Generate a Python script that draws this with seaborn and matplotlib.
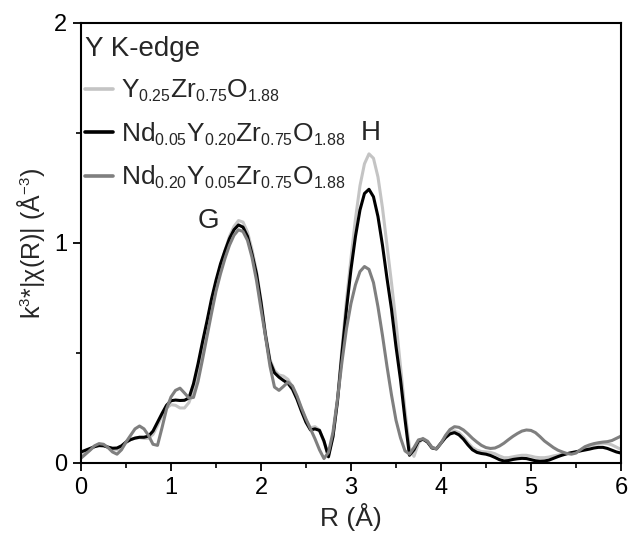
import numpy as np
import pandas as pd
import matplotlib
matplotlib.use("Agg")
import matplotlib.pyplot as plt
import matplotlib._mathtext as mathtext_core
from matplotlib.ticker import MultipleLocator
import seaborn as sns

# Radial distance grid (Å), 0.05 Å step
r = np.round(np.arange(0, 6.0001, 0.05), 2)

# |chi(R)| weighted by k^3, Y K-edge
y025 = [0.030, 0.045, 0.060, 0.075, 0.084, 0.082, 0.072, 0.062, 0.060, 0.072,
        0.092, 0.106, 0.113, 0.115, 0.112, 0.112, 0.130, 0.170, 0.215, 0.250,
        0.265, 0.262, 0.250, 0.250, 0.275, 0.335, 0.425, 0.525, 0.625, 0.725,
        0.815, 0.895, 0.965, 1.030, 1.075, 1.102, 1.095, 1.050, 0.970, 0.870,
        0.740, 0.590, 0.470, 0.420, 0.400, 0.395, 0.380, 0.345, 0.300, 0.245,
        0.195, 0.160, 0.165, 0.150, 0.095, 0.035, 0.120, 0.290, 0.520, 0.740,
        0.930, 1.110, 1.260, 1.360, 1.405, 1.385, 1.300, 1.160, 0.990, 0.820,
        0.640, 0.440, 0.240, 0.070, 0.030, 0.090, 0.112, 0.100, 0.072, 0.066,
        0.090, 0.118, 0.138, 0.146, 0.138, 0.118, 0.092, 0.070, 0.058, 0.052,
        0.050, 0.048, 0.042, 0.032, 0.024, 0.024, 0.028, 0.032, 0.035, 0.035,
        0.031, 0.026, 0.024, 0.024, 0.027, 0.032, 0.036, 0.040, 0.043, 0.045,
        0.048, 0.056, 0.068, 0.078, 0.084, 0.088, 0.090, 0.088, 0.082, 0.072,
        0.062]

nd005 = [0.050, 0.058, 0.066, 0.074, 0.079, 0.078, 0.072, 0.067, 0.068, 0.078,
         0.095, 0.106, 0.113, 0.117, 0.117, 0.122, 0.145, 0.185, 0.225, 0.262,
         0.283, 0.286, 0.284, 0.285, 0.296, 0.360, 0.450, 0.550, 0.645, 0.745,
         0.830, 0.905, 0.965, 1.020, 1.060, 1.082, 1.072, 1.030, 0.950, 0.860,
         0.730, 0.580, 0.460, 0.410, 0.390, 0.375, 0.362, 0.335, 0.290, 0.235,
         0.185, 0.150, 0.155, 0.148, 0.100, 0.028, 0.120, 0.280, 0.500, 0.700,
         0.880, 1.030, 1.150, 1.225, 1.244, 1.210, 1.120, 0.990, 0.840, 0.700,
         0.530, 0.380, 0.200, 0.035, 0.060, 0.100, 0.108, 0.095, 0.068, 0.064,
         0.090, 0.115, 0.132, 0.138, 0.128, 0.108, 0.082, 0.060, 0.048, 0.043,
         0.040, 0.034, 0.025, 0.015, 0.009, 0.011, 0.016, 0.019, 0.021, 0.020,
         0.015, 0.010, 0.008, 0.009, 0.013, 0.021, 0.029, 0.036, 0.042, 0.047,
         0.051, 0.055, 0.059, 0.063, 0.068, 0.071, 0.071, 0.066, 0.058, 0.050,
         0.045]

nd020 = [0.022, 0.040, 0.058, 0.078, 0.088, 0.085, 0.070, 0.050, 0.040, 0.060,
         0.095, 0.125, 0.155, 0.168, 0.155, 0.125, 0.085, 0.080, 0.160, 0.245,
         0.300, 0.330, 0.340, 0.318, 0.295, 0.298, 0.370, 0.470, 0.575, 0.680,
         0.780, 0.860, 0.930, 0.990, 1.035, 1.060, 1.052, 1.012, 0.935, 0.830,
         0.700, 0.575, 0.440, 0.345, 0.330, 0.348, 0.368, 0.350, 0.305, 0.250,
         0.200, 0.155, 0.110, 0.060, 0.020, 0.048, 0.140, 0.290, 0.460, 0.610,
         0.725, 0.810, 0.870, 0.893, 0.880, 0.820, 0.710, 0.580, 0.440, 0.310,
         0.195, 0.115, 0.055, 0.040, 0.070, 0.105, 0.110, 0.098, 0.070, 0.064,
         0.090, 0.125, 0.152, 0.165, 0.162, 0.150, 0.132, 0.112, 0.095, 0.080,
         0.070, 0.066, 0.068, 0.077, 0.090, 0.106, 0.121, 0.134, 0.145, 0.150,
         0.148, 0.138, 0.120, 0.100, 0.085, 0.070, 0.058, 0.050, 0.043, 0.040,
         0.045, 0.060, 0.074, 0.082, 0.088, 0.092, 0.095, 0.097, 0.102, 0.112,
         0.122]

labels = [r"Y$_{0.25}$Zr$_{0.75}$O$_{1.88}$",
          r"Nd$_{0.05}$Y$_{0.20}$Zr$_{0.75}$O$_{1.88}$",
          r"Nd$_{0.20}$Y$_{0.05}$Zr$_{0.75}$O$_{1.88}$"]
colors = ["#c4c4c4", "#000000", "#7f7f7f"]

df = pd.concat([pd.DataFrame({"R": r, "chi": v, "sample": lab})
                for v, lab in zip([y025, nd005, nd020], labels)],
               ignore_index=True)

# smaller sub/superscripts in the formula labels
mathtext_core.SHRINK_FACTOR = 0.6

sns.set_theme(style="ticks")
plt.rcParams.update({
    "font.family": ["Liberation Sans", "DejaVu Sans"],
    "mathtext.fontset": "custom",
    "mathtext.rm": "Liberation Sans",
    "mathtext.it": "Liberation Sans:italic",
    "mathtext.bf": "Liberation Sans:bold",
    "axes.linewidth": 1.5,
    "axes.edgecolor": "black",
    "xtick.color": "black",
    "ytick.color": "black",
})

fig = plt.figure(figsize=(6.3, 5.42), dpi=100)
ax = fig.add_axes([0.1286, 0.1458, 0.857, 0.8118])

sns.lineplot(data=df, x="R", y="chi", hue="sample", hue_order=labels,
             palette=colors, linewidth=2.2, errorbar=None, sort=False, ax=ax)

ax.set_xlim(0, 6)
ax.set_ylim(0, 2)
ax.xaxis.set_major_locator(MultipleLocator(1))
ax.xaxis.set_minor_locator(MultipleLocator(0.5))
ax.yaxis.set_major_locator(MultipleLocator(1))
ax.yaxis.set_minor_locator(MultipleLocator(0.5))
ax.tick_params(which="major", direction="out", length=6, width=1.3,
               labelsize=17, pad=4)
ax.tick_params(which="minor", direction="out", length=3.5, width=1.2)

ax.set_xlabel("R (Å)", fontsize=19, labelpad=3)
ax.set_ylabel(r"k$^{3}$*|χ(R)| (Å$^{-3}$)", fontsize=18, labelpad=5)

ax.text(1.42, 1.098, "G", fontsize=20, ha="center", va="center")
ax.text(3.22, 1.50, "H", fontsize=20, ha="center", va="center")

handles, _ = ax.get_legend_handles_labels()
leg = ax.legend(handles=handles, labels=labels, title="Y K-edge",
                loc="upper left", bbox_to_anchor=(0.0074, 0.971),
                frameon=False, fontsize=19, title_fontsize=20,
                handlelength=1.05, handletextpad=0.3, labelspacing=0.62,
                borderpad=0, borderaxespad=0, alignment="left")
for line in leg.get_lines():
    line.set_linewidth(2.6)

fig.savefig("out.png", dpi=100)
